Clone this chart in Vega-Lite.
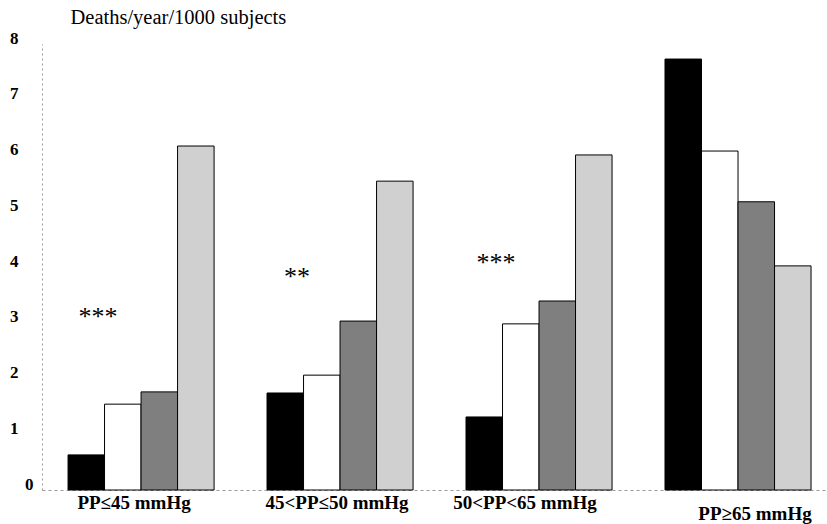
{
  "$schema": "https://vega.github.io/schema/vega-lite/v6.json",
  "width": 785,
  "height": 446,
  "autosize": "none",
  "padding": {"left": 42, "top": 44, "right": 0, "bottom": 34},
  "background": "white",
  "config": {"view": {"stroke": null}, "font": "Liberation Serif"},
  "layer": [
    {
      "data": {
        "values": [
          {"group": "PP≤45 mmHg", "series": "a", "value": 0.63},
          {"group": "PP≤45 mmHg", "series": "b", "value": 1.54},
          {"group": "PP≤45 mmHg", "series": "c", "value": 1.76},
          {"group": "PP≤45 mmHg", "series": "d", "value": 6.17},
          {"group": "45<PP≤50 mmHg", "series": "a", "value": 1.74},
          {"group": "45<PP≤50 mmHg", "series": "b", "value": 2.06},
          {"group": "45<PP≤50 mmHg", "series": "c", "value": 3.03},
          {"group": "45<PP≤50 mmHg", "series": "d", "value": 5.54},
          {"group": "50<PP<65 mmHg", "series": "a", "value": 1.31},
          {"group": "50<PP<65 mmHg", "series": "b", "value": 2.98},
          {"group": "50<PP<65 mmHg", "series": "c", "value": 3.39},
          {"group": "50<PP<65 mmHg", "series": "d", "value": 6.01},
          {"group": "PP≥65 mmHg", "series": "a", "value": 7.73},
          {"group": "PP≥65 mmHg", "series": "b", "value": 6.08},
          {"group": "PP≥65 mmHg", "series": "c", "value": 5.17},
          {"group": "PP≥65 mmHg", "series": "d", "value": 4.02}
        ]
      },
      "mark": {"type": "bar", "stroke": "black", "strokeWidth": 1},
      "encoding": {
        "x": {
          "field": "group",
          "type": "nominal",
          "sort": ["PP≤45 mmHg", "45<PP≤50 mmHg", "50<PP<65 mmHg", "PP≥65 mmHg"],
          "scale": {"paddingInner": 0.266, "paddingOuter": 0.1055, "align": 0.62},
          "axis": {
            "title": null,
            "labelAngle": 0,
            "labelFont": "Liberation Serif",
            "labelFontWeight": "bold",
            "labelFontSize": 19,
            "labelColor": "black",
            "labelBaseline": "middle",
            "labelPadding": {"condition": {"test": "datum.value === 'PP≥65 mmHg'", "value": 23}, "value": 12},
            "labelOffset": {"condition": [
              {"test": "datum.value === 'PP≤45 mmHg'", "value": -7},
              {"test": "datum.value === '45<PP≤50 mmHg'", "value": -3},
              {"test": "datum.value === '50<PP<65 mmHg'", "value": -14}
            ], "value": 17},
            "ticks": false,
            "domainColor": "#999999",
            "domainDash": [3, 3],
            "domainWidth": 1
          }
        },
        "xOffset": {"field": "series", "type": "nominal", "scale": {"paddingInner": 0, "paddingOuter": 0}},
        "y": {
          "field": "value",
          "type": "quantitative",
          "scale": {"domain": [0, 8], "nice": false},
          "axis": {
            "title": "Deaths/year/1000 subjects",
            "titleAngle": 0,
            "titleAlign": "left",
            "titleBaseline": "middle",
            "titleX": 28,
            "titleY": -27,
            "titleFont": "Liberation Serif",
            "titleFontWeight": "normal",
            "titleFontSize": 20.5,
            "titleColor": "black",
            "values": [0, 1, 2, 3, 4, 5, 6, 7, 8],
            "format": "d",
            "labelFont": "Liberation Serif",
            "labelFontWeight": "bold",
            "labelFontSize": 17,
            "labelColor": "black",
            "labelPadding": {"condition": {"test": "datum.value === 0", "value": 9}, "value": 24},
            "labelOffset": -6,
            "ticks": false,
            "grid": false,
            "domainColor": "#999999",
            "domainDash": [2, 3],
            "domainWidth": 1
          }
        },
        "color": {
          "field": "series",
          "type": "nominal",
          "scale": {"domain": ["a", "b", "c", "d"], "range": ["#000000", "#ffffff", "#7f7f7f", "#d0d0d0"]},
          "legend": null
        }
      }
    },
    {
      "data": {
        "values": [
          {"group": "PP≤45 mmHg", "label": "***", "pos": 3.17},
          {"group": "45<PP≤50 mmHg", "label": "**", "pos": 3.89},
          {"group": "50<PP<65 mmHg", "label": "***", "pos": 4.14}
        ]
      },
      "mark": {"type": "text", "font": "Liberation Serif", "fontSize": 26, "color": "black", "baseline": "alphabetic", "dx": -43, "dy": 12},
      "encoding": {
        "x": {"field": "group", "type": "nominal", "sort": ["PP≤45 mmHg", "45<PP≤50 mmHg", "50<PP<65 mmHg", "PP≥65 mmHg"]},
        "y": {"field": "pos", "type": "quantitative"},
        "text": {"field": "label"}
      }
    }
  ]
}
